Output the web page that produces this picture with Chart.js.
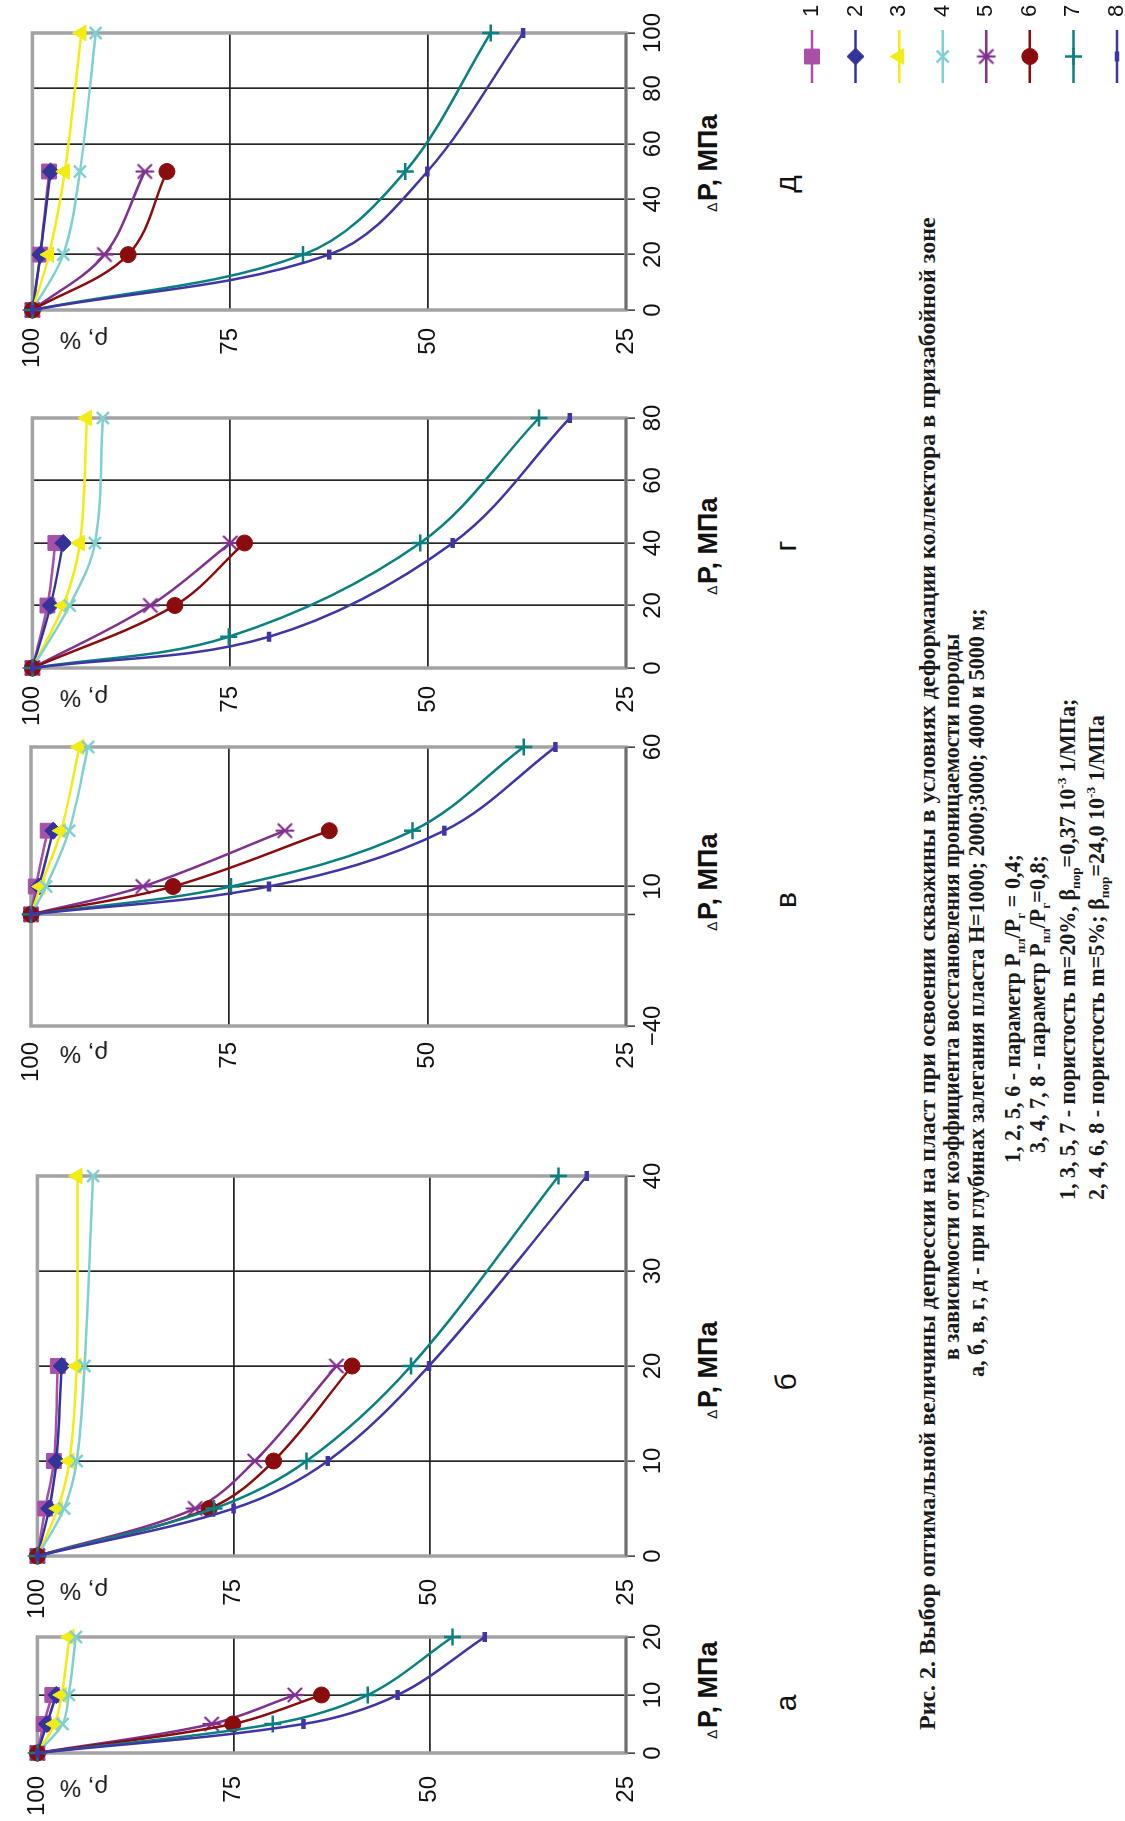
<!DOCTYPE html>
<html>
<head>
<meta charset="utf-8">
<script src="https://cdn.jsdelivr.net/npm/chart.js@4.4.1/dist/chart.umd.min.js"></script>
<style>
  html, body { margin: 0; padding: 0; background: #fff; }
  body { width: 1125px; height: 1821px; overflow: hidden; position: relative; }
  /* the figure is laid out in landscape and turned a quarter turn to the left */
  #land { position: absolute; left: 0; top: 0; width: 1821px; height: 1125px;
          transform-origin: 0 0; transform: translate(0px, 1821px) rotate(-90deg); overflow: hidden; }
  canvas { position: absolute; }
  .t { position: absolute; white-space: nowrap; font-family: "Liberation Sans", Arial, sans-serif; color: #111; }
  .dl { font-size: 14px; font-weight: normal; margin-right: 2px; }
  .cap { position: absolute; white-space: nowrap; font-family: "Liberation Serif", "Times New Roman", serif;
         font-weight: bold; color: #1a1a1a; line-height: 28px; }
  .cap sub { font-size: 60%; vertical-align: -5px; line-height: 0; }
  .cap sup { font-size: 60%; vertical-align: 9px; line-height: 0; }
</style>
</head>
<body>
<div id="land"></div>
<script>
// ---- data ----
const seriesNames = ['1', '2', '3', '4', '5', '6', '7', '8'];
const yTicks = [25, 50, 75, 100];

// а, H=1000
const dpA = [0, 5, 10];
const dpA2 = [0, 5, 10, 20];
const ticksA = [0, 10, 20];
const rhoA = [
  [100, 99.2, 98.1],
  [100, 98.8, 97.6],
  [100, 97.8, 96.9, 95.9],
  [100, 96.8, 96.0, 95.1],
  [100, 77.8, 67.2],
  [100, 75.1, 63.8],
  [100, 70.0, 57.9, 47.1],
  [100, 66.1, 54.1, 43.0]
];

// б, H=2000
const dpB = [0, 5, 10, 20];
const dpB2 = [0, 5, 10, 20, 40];
const ticksB = [0, 10, 20, 30, 40];
const rhoB = [
  [100, 99.0, 97.9, 97.4],
  [100, 98.5, 97.6, 96.9],
  [100, 97.4, 95.9, 95.0, 94.9],
  [100, 96.6, 95.0, 94.0, 92.9],
  [100, 79.9, 72.3, 61.9],
  [100, 78.1, 69.9, 59.9],
  [100, 77.5, 65.7, 52.4, 33.6],
  [100, 75.0, 63.0, 50.1, 30.0]
];

// в, H=3000
const dpV = [0, 10, 30];
const dpV2 = [0, 10, 30, 60];
const ticksV = [-40, 0, 10, 60];
const rhoV = [
  [100, 99.4, 97.9],
  [100, 99.0, 97.2],
  [100, 98.8, 96.2, 93.9],
  [100, 98.1, 95.2, 92.8],
  [100, 85.9, 68.0],
  [100, 82.1, 62.4],
  [100, 74.8, 51.9, 37.9],
  [100, 70.0, 47.9, 33.9]
];

// г, H=4000
const dpG = [0, 20, 40];
const dpG2 = [0, 20, 40, 80];
const dpG3 = [0, 10, 40, 80];
const ticksG = [0, 20, 40, 60, 80];
const rhoG = [
  [100, 98.1, 97.1],
  [100, 97.7, 96.1],
  [100, 96.1, 94.0, 93.1],
  [100, 95.3, 92.1, 91.1],
  [100, 85.1, 75.0],
  [100, 82.0, 73.2],
  [100, 75.2, 51.0, 36.0],
  [100, 70.1, 46.9, 32.1]
];

// д, H=5000
const dpD = [0, 20, 50];
const dpD2 = [0, 20, 50, 100];
const ticksD = [0, 20, 40, 60, 80, 100];
const rhoD = [
  [100, 99.0, 97.9],
  [100, 99.0, 97.7],
  [100, 97.9, 95.9, 93.8],
  [100, 96.1, 94.0, 92.0],
  [100, 90.9, 85.8],
  [100, 87.9, 83.0],
  [100, 65.8, 52.9, 42.1],
  [100, 62.5, 50.1, 38.0]
];

// ---- styles ----
// Excel-like six-armed star marker for series 5
function starMarker(color) {
  const c = document.createElement('canvas');
  c.width = 20; c.height = 20;
  const g = c.getContext('2d');
  g.strokeStyle = color; g.lineWidth = 2.2; g.lineCap = 'round';
  g.beginPath();
  g.moveTo(10, 1.5); g.lineTo(10, 18.5);
  g.moveTo(3.5, 3.5); g.lineTo(16.5, 16.5);
  g.moveTo(16.5, 3.5); g.lineTo(3.5, 16.5);
  g.stroke();
  return c;
}

const seriesStyle = [
  { color: '#a84fa8', point: 'rect',     r: 10.5, bw: 1 },
  { color: '#333399', point: 'rectRot',  r: 8.5,  bw: 1 },
  { color: '#f3ec12', point: 'triangle', r: 9,    bw: 1 },
  { color: '#7fd0d0', point: 'crossRot', r: 8.5,  bw: 2.5 },
  { color: '#80308f', point: starMarker('#80308f'), r: 9, bw: 2 },
  { color: '#8a0c0c', point: 'circle',   r: 8,    bw: 1 },
  { color: '#0b8080', point: 'cross',    r: 8.5,  bw: 2.5 },
  { color: '#3f35a5', point: 'line',     r: 5,    bw: 4.5 }
];

const panels = [
  { letter: 'а', min: 0,   max: 20,  ticks: ticksA, ys: rhoA, xs: [dpA, dpA, dpA2, dpA2, dpA, dpA, dpA2, dpA2],
    left: 68,   right: 184,  pad: 23, titleX: 131,  letterX: 118 },
  { letter: 'б', min: 0,   max: 40,  ticks: ticksB, ys: rhoB, xs: [dpB, dpB, dpB2, dpB2, dpB, dpB, dpB2, dpB2],
    left: 265,  right: 645,  pad: 23, titleX: 451,  letterX: 439 },
  { letter: 'в', min: -40, max: 60,  ticks: ticksV, ys: rhoV, xs: [dpV, dpV, dpV2, dpV2, dpV, dpV, dpV2, dpV2],
    left: 795,  right: 1074, pad: 16, titleX: 939,  letterX: 921 },
  { letter: 'г', min: 0,   max: 80,  ticks: ticksG, ys: rhoG, xs: [dpG, dpG, dpG2, dpG2, dpG, dpG, dpG3, dpG3],
    left: 1153, right: 1403, pad: 18, titleX: 1275, letterX: 1275 },
  { letter: 'д', min: 0,   max: 100, ticks: ticksD, ys: rhoD, xs: [dpD, dpD, dpD2, dpD2, dpD, dpD, dpD2, dpD2],
    left: 1511, right: 1788, pad: 18, titleX: 1658, letterX: 1637 }
];

const PLOT_TOP = 31, PLOT_BOTTOM = 626, AXW = 75, AXH = 50, RPAD = 30;
const land = document.getElementById('land');

Chart.defaults.font.family = "'Liberation Sans', Arial, sans-serif";
Chart.defaults.font.size = 24;
Chart.defaults.color = '#111';

// grey plot-area frame, darker category axis line at the bottom
const framePlugin = {
  id: 'frame',
  beforeDatasetsDraw(chart) {
    const { ctx, chartArea: a } = chart;
    ctx.save();
    ctx.strokeStyle = '#a3a3a3';
    ctx.lineWidth = 3.5;
    ctx.strokeRect(a.left, a.top, a.right - a.left, a.bottom - a.top);
    ctx.strokeStyle = '#6e6e6e';
    ctx.lineWidth = 2.5;
    ctx.beginPath();
    ctx.moveTo(a.left, a.bottom);
    ctx.lineTo(a.right, a.bottom);
    ctx.stroke();
    ctx.restore();
  }
};

function dsStyle(i) {
  const s = seriesStyle[i];
  return {
    borderColor: s.color, backgroundColor: s.color, borderWidth: 2.5,
    pointStyle: s.point, pointRadius: s.r, pointBorderWidth: s.bw,
    pointBackgroundColor: s.color, pointBorderColor: s.color,
    tension: 0.35, clip: false, fill: false, order: 8 - i
  };
}

function addText(html, x, y, css) {
  const d = document.createElement('div');
  d.className = 't';
  d.innerHTML = html;
  d.style.cssText += 'left:' + x + 'px;top:' + y + 'px;' + css;
  land.appendChild(d);
  return d;
}

panels.forEach(p => {
  const cv = document.createElement('canvas');
  cv.width = AXW + (p.right - p.left) + RPAD;
  cv.height = PLOT_BOTTOM + AXH;
  cv.style.left = (p.left - AXW) + 'px';
  cv.style.top = '0px';
  land.appendChild(cv);

  new Chart(cv, {
    type: 'line',
    data: {
      datasets: p.ys.map((ys, i) => Object.assign({
        label: seriesNames[i],
        data: ys.map((v, j) => ({ x: p.xs[i][j], y: v }))
      }, dsStyle(i)))
    },
    options: {
      responsive: false, animation: false, devicePixelRatio: 1, events: [],
      layout: { padding: { top: PLOT_TOP, right: RPAD, left: 0, bottom: 0 } },
      plugins: { legend: { display: false }, tooltip: { enabled: false } },
      scales: {
        x: {
          type: 'linear', min: p.min, max: p.max,
          afterBuildTicks: s => { s.ticks = p.ticks.map(v => ({ value: v })); },
          afterFit: s => { s.height = AXH; },
          ticks: { autoSkip: false, maxRotation: 0, padding: 4,
                   callback: v => (v === 0 && p.min < 0) ? '' : String(v).replace('-', '\u2212') },
          grid: {
            color: c => (c.tick && c.tick.value === 0 && p.min < 0) ? '#a3a3a3' : '#262626',
            lineWidth: c => (c.tick && c.tick.value === 0 && p.min < 0) ? 3 : 1.7,
            drawTicks: true, tickLength: 9, tickColor: '#333', tickWidth: 1.5
          },
          border: { display: false }
        },
        y: {
          type: 'linear', min: 25, max: 100,
          afterBuildTicks: s => { s.ticks = yTicks.map(v => ({ value: v })); },
          afterFit: s => { s.width = AXW; },
          ticks: { padding: p.pad },
          grid: { color: '#262626', lineWidth: 1.7, drawTicks: false },
          border: { display: false }
        }
      }
    },
    plugins: [framePlugin]
  });

  // axis titles and panel letter
  addText('\u03c1, %', p.left - p.pad - 12, 84,
          'font-size:24px;transform:translate(-50%,-50%) rotate(-90deg);');
  addText('<span class="dl">\u2206</span>P, МПа', p.titleX, 708,
          'font-size:27px;font-weight:bold;transform:translate(-50%,-50%);');
  addText(p.letter, p.letterX, 786, 'font-size:30px;transform:translate(-50%,-50%);');
});

// ---- legend: line + marker samples drawn by Chart.js ----
(function () {
  const cv = document.createElement('canvas');
  cv.width = 91; cv.height = 360;
  cv.style.left = '1730px'; cv.style.top = '780px';
  land.appendChild(cv);
  new Chart(cv, {
    type: 'line',
    data: {
      datasets: seriesNames.map((n, i) => Object.assign(dsStyle(i), {
        label: n,
        data: [0, 1, 2].map(x => ({ x: x, y: i + 1 })),
        pointRadius: [0, seriesStyle[i].r, 0],
        tension: 0
      }))
    },
    options: {
      responsive: false, animation: false, devicePixelRatio: 1, events: [],
      layout: { padding: { top: 32, left: 8, right: 0, bottom: 23 } },
      plugins: { legend: { display: false }, tooltip: { enabled: false } },
      scales: {
        x: { type: 'linear', min: 0, max: 2, display: false },
        y: {
          type: 'linear', min: 1, max: 8, reverse: true, position: 'right',
          afterBuildTicks: s => { s.ticks = seriesNames.map((n, i) => ({ value: i + 1 })); },
          afterFit: s => { s.width = 30; },
          ticks: { padding: 5, font: { size: 22 }, callback: v => seriesNames[v - 1] },
          grid: { display: false }, border: { display: false }
        }
      }
    }
  });
})();

// ---- caption ----
const capLines = [
  'Рис. 2. Выбор оптимальной величины депрессии на пласт при освоении скважины в условиях деформации коллектора в призабойной зоне',
  'в зависимости от коэффициента восстановления проницаемости породы',
  'а, б, в, г, д - при глубинах залегания пласта Н=1000; 2000;3000; 4000 и 5000 м;',
  '1, 2, 5, 6 - параметр P<sub>пл</sub>/P<sub>г</sub> = 0,4;',
  '3, 4, 7, 8 - параметр P<sub>пл</sub>/P<sub>г</sub>=0,8;',
  '1, 3, 5, 7 - пористость m=20%, β<sub>пор</sub>=0,37 10<sup>-3</sup> 1/МПа;',
  '2, 4, 6, 8 - пористость m=5%; β<sub>пор</sub>=24,0 10<sup>-3</sup> 1/МПа'
];
const capLeft = [91, 461, 444, 658, 668, 621, 621];
const capMid = [927, 952, 977, 1013, 1038, 1068, 1097];

const capEls = capLines.map((h, i) => {
  const d = document.createElement('div');
  d.className = 'cap';
  d.innerHTML = h;
  d.style.left = capLeft[i] + 'px';
  d.style.top = (capMid[i] - 14) + 'px';
  d.style.fontSize = '24px';
  land.appendChild(d);
  return d;
});
// first line runs from x=91 to x=1604 in the figure; the rest is set a point smaller
const fs = 24 * 1513 / capEls[0].offsetWidth;
capEls.forEach((d, i) => { d.style.fontSize = (i === 0 ? fs : fs * 0.92).toFixed(2) + 'px'; });
</script>
</body>
</html>
